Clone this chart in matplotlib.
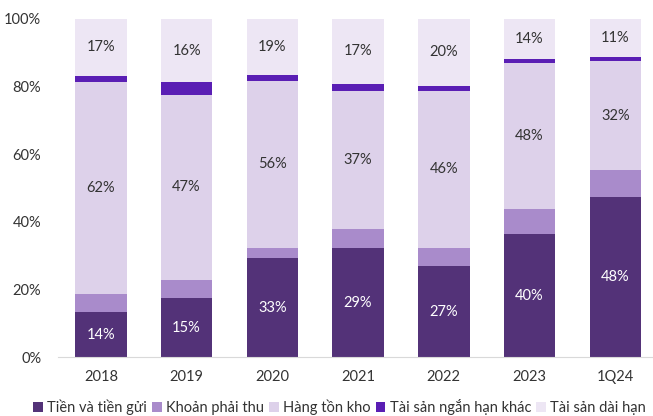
import matplotlib
matplotlib.use("Agg")
import matplotlib.pyplot as plt
from matplotlib.patches import Patch
from matplotlib.ticker import FuncFormatter

plt.rcParams['font.family'] = ['Lato', 'DejaVu Sans']

periods = ["2018", "2019", "2020", "2021", "2022", "2023", "1Q24"]

# chiều cao các đoạn (%)
tien = [13.3, 17.5, 29.3, 32.2, 27.0, 36.4, 47.3]
phai_thu = [5.5, 5.3, 3.1, 5.6, 5.4, 7.5, 8.0]
ton_kho = [62.4, 54.8, 49.2, 40.8, 46.2, 43.0, 32.1]
ngan_han_khac = [1.9, 3.6, 1.7, 2.2, 1.5, 1.1, 1.2]
dai_han = [16.9, 18.8, 16.7, 19.2, 19.9, 12.0, 11.4]

# nhãn dữ liệu hiển thị trên biểu đồ
lbl_tien = ["14%", "15%", "33%", "29%", "27%", "40%", "48%"]
lbl_ton_kho = ["62%", "47%", "56%", "37%", "46%", "48%", "32%"]
lbl_dai_han = ["17%", "16%", "19%", "17%", "20%", "14%", "11%"]

series = [
    ("Tiền và tiền gửi", tien, "#533278"),
    ("Khoản phải thu", phai_thu, "#A98BCB"),
    ("Hàng tồn kho", ton_kho, "#DDD1EA"),
    ("Tài sản ngắn hạn khác", ngan_han_khac, "#5A1EB4"),
    ("Tài sản dài hạn", dai_han, "#EDE6F4"),
]
labels = {0: (lbl_tien, "white"), 2: (lbl_ton_kho, "#333333"), 4: (lbl_dai_han, "#333333")}

fs = 10.5

fig = plt.figure(figsize=(6.53, 4.16), dpi=100)
ax = fig.add_axes([0.0888, 0.1411, 1.0 - 0.0888, 0.9548 - 0.1411])

x = list(range(len(periods)))
bottom = [0.0] * len(periods)
for i, (name, vals, color) in enumerate(series):
    ax.bar(x, vals, 0.6, bottom=bottom, color=color, edgecolor="none")
    if i in labels:
        txt, tc = labels[i]
        for xi, b, v, t in zip(x, bottom, vals, txt):
            ax.text(xi, b + v / 2, t, ha="center", va="center", fontsize=fs, color=tc)
    bottom = [b + v for b, v in zip(bottom, vals)]

ax.set_xlim(-0.5, 6.44)
ax.set_ylim(0, 100)
ax.set_yticks(range(0, 101, 20))
ax.yaxis.set_major_formatter(FuncFormatter(lambda v, _p: f"{v:.0f}%"))
ax.set_xticks(x)
ax.set_xticklabels(periods)
ax.tick_params(length=0, labelsize=fs, colors="#333333")
ax.tick_params(axis="x", pad=9)
ax.tick_params(axis="y", pad=12)
for s in ["top", "right", "left"]:
    ax.spines[s].set_visible(False)
ax.spines["bottom"].set_color("#D9D9D9")

handles = [Patch(facecolor=c, edgecolor="none", label=n) for n, _, c in series]
fig.legend(handles=handles, loc="center", bbox_to_anchor=(0.52, 0.022), ncol=5,
           frameon=False, fontsize=fs, handlelength=0.65, handleheight=0.65,
           handletextpad=0.3, columnspacing=0.35, labelcolor="#333333")

fig.savefig("out.png", dpi=100)
